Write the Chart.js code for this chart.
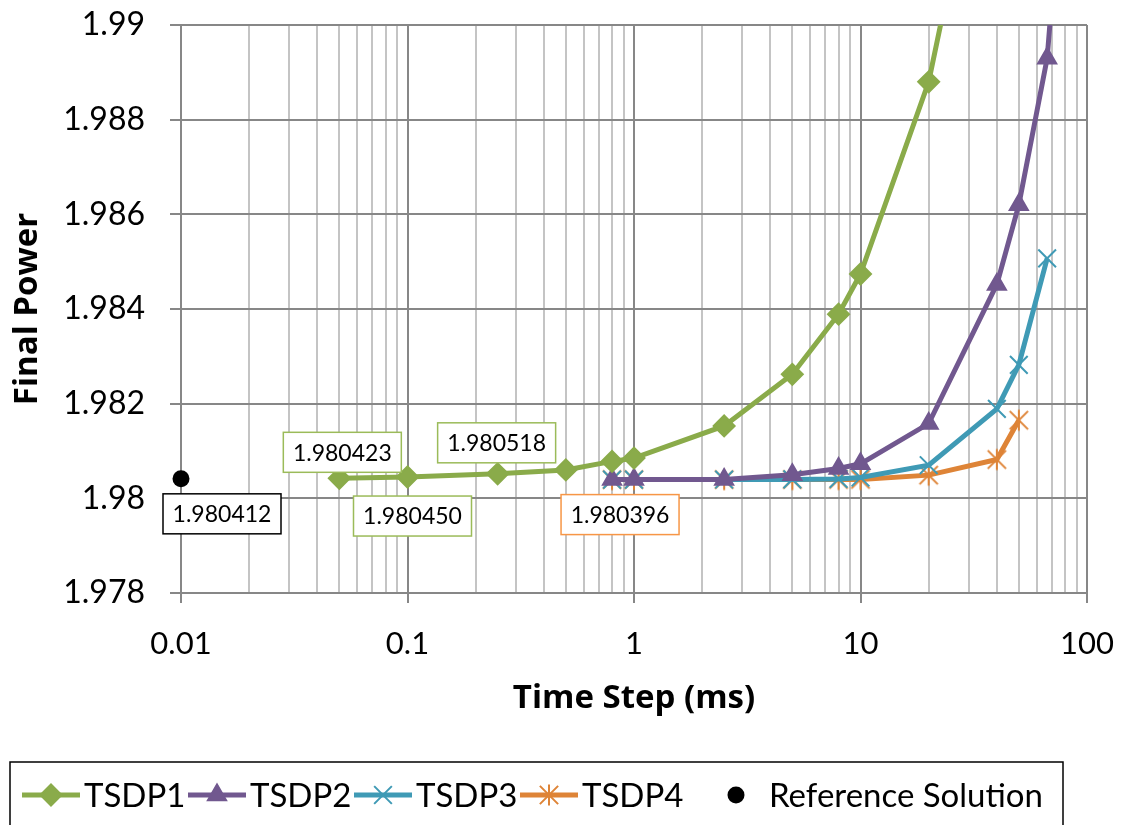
<!DOCTYPE html>
<html>
<head>
<meta charset="utf-8">
<script src="https://cdn.jsdelivr.net/npm/chart.js@4/dist/chart.umd.min.js"></script>
<style>
  html, body { margin: 0; padding: 0; background: #fff; }
  #wrap { width: 1126px; height: 825px; position: relative; }
</style>
</head>
<body>
<div id="wrap"><canvas id="chart" width="1126" height="825"></canvas></div>
<script>
// Data
const steps1 = [0.05, 0.1, 0.25, 0.5, 0.8, 1, 2.5, 5, 8, 10, 20, 40];
const power1 = [1.980423, 1.980450, 1.980518, 1.98060, 1.98078, 1.98085, 1.98153, 1.98262, 1.98389, 1.98474, 1.98880, 1.99570];

const steps2 = [0.8, 1, 2.5, 5, 8, 10, 20, 40, 50, 66.7, 80];
const power2 = [1.980397, 1.980397, 1.980400, 1.98050, 1.98063, 1.98073, 1.98158, 1.98452, 1.98620, 1.98930, 1.99400];

const steps3 = [0.8, 1, 2.5, 5, 8, 10, 20, 40, 50, 66.7];
const power3 = [1.980396, 1.980396, 1.980397, 1.980400, 1.98041, 1.98044, 1.98070, 1.98189, 1.98282, 1.98507];

const steps4 = [0.8, 1, 2.5, 5, 8, 10, 20, 40, 50];
const power4 = [1.980396, 1.980396, 1.980396, 1.980397, 1.980398, 1.980400, 1.98049, 1.98082, 1.98165];

const refStep = [0.01];
const refPower = [1.980412];

const decades = [0.01, 0.1, 1, 10, 100];
const yTicks = [1.978, 1.98, 1.982, 1.984, 1.986, 1.988, 1.99];

const FONT = 'Lato, "Open Sans", sans-serif';
const TITLE_FONT = '"Open Sans", Lato, sans-serif';
const GREEN = '#8AAB4A', PURPLE = '#71588F', TEAL = '#3F9AB5', ORANGE = '#DE8437';

// legend item start positions
const legendX = [22, 188, 354, 520, 707];

function pts(xs, ys) {
    return xs.map((x, i) => ({ x: x, y: ys[i] }));
}

// asterisk marker (X plus vertical bar), like the spreadsheet one
function asterisk(color, size) {
    const c = document.createElement('canvas');
    c.width = size; c.height = size;
    const g = c.getContext('2d');
    const m = size / 2, r = size / 2 - 1.5;
    g.strokeStyle = color;
    g.lineWidth = 2;
    g.beginPath();
    g.moveTo(m - r * 0.87, m - r * 0.87); g.lineTo(m + r * 0.87, m + r * 0.87);
    g.moveTo(m + r * 0.87, m - r * 0.87); g.lineTo(m - r * 0.87, m + r * 0.87);
    g.moveTo(m, m - r); g.lineTo(m, m + r);
    g.stroke();
    return c;
}
const starImg = asterisk(ORANGE, 24);

// boxed value labels
const labels = [
    { ds: 4, idx: 0, text: '1.980412', color: '#000000', dx: 41, dy: 35 },
    { ds: 0, idx: 0, text: '1.980423', color: '#9BBB59', dx: 3, dy: -26 },
    { ds: 0, idx: 1, text: '1.980450', color: '#9BBB59', dx: 5, dy: 39 },
    { ds: 0, idx: 2, text: '1.980518', color: '#9BBB59', dx: -1, dy: -31 },
    { ds: 3, idx: 0, text: '1.980396', color: '#F79646', dx: 8, dy: 35 }
];

const labelPlugin = {
    id: 'boxLabels',
    afterDatasetsDraw(chart) {
        const ctx = chart.ctx;
        ctx.save();
        ctx.font = '23px ' + FONT;
        ctx.textAlign = 'center';
        ctx.textBaseline = 'middle';
        labels.forEach(l => {
            const p = chart.getDatasetMeta(l.ds).data[l.idx];
            const cx = p.x + l.dx, cy = p.y + l.dy;
            const w = 118, h = 40;
            ctx.fillStyle = '#fff';
            ctx.fillRect(cx - w / 2, cy - h / 2, w, h);
            ctx.strokeStyle = l.color;
            ctx.lineWidth = 1.5;
            ctx.strokeRect(cx - w / 2, cy - h / 2, w, h);
            ctx.fillStyle = '#000';
            ctx.fillText(l.text, cx, cy + 1);
        });
        ctx.restore();
    }
};

// legend with line + marker samples inside a box
const legendPlugin = {
    id: 'boxLegend',
    afterDraw(chart) {
        const ctx = chart.ctx;
        ctx.save();
        ctx.strokeStyle = '#000';
        ctx.lineWidth = 1.5;
        ctx.strokeRect(10, 762, 1053, 70);
        ctx.font = '33px ' + FONT;
        ctx.textBaseline = 'middle';
        ctx.textAlign = 'left';
        const y = 795;
        chart.data.datasets.forEach((ds, i) => {
            const x = legendX[i];
            if (ds.showLine !== false) {
                ctx.strokeStyle = ds.borderColor;
                ctx.lineWidth = 5;
                ctx.beginPath();
                ctx.moveTo(x, y); ctx.lineTo(x + 58, y);
                ctx.stroke();
            }
            drawMarker(ctx, ds, x + 29, y);
            ctx.fillStyle = '#000';
            ctx.fillText(ds.label, x + 62, y + 1);
        });
        ctx.restore();
    }
};

function drawMarker(ctx, ds, x, y) {
    const r = ds.pointRadius;
    ctx.save();
    ctx.fillStyle = ds.pointBackgroundColor;
    ctx.strokeStyle = ds.pointBorderColor;
    ctx.lineWidth = ds.pointBorderWidth;
    ctx.beginPath();
    if (ds.pointStyle === 'rectRot') {
        ctx.moveTo(x - r, y); ctx.lineTo(x, y - r); ctx.lineTo(x + r, y); ctx.lineTo(x, y + r);
        ctx.closePath(); ctx.fill(); ctx.stroke();
    } else if (ds.pointStyle === 'triangle') {
        ctx.moveTo(x, y - r); ctx.lineTo(x + r * 0.866, y + r / 2); ctx.lineTo(x - r * 0.866, y + r / 2);
        ctx.closePath(); ctx.fill(); ctx.stroke();
    } else if (ds.pointStyle === 'crossRot') {
        const o = r * 0.707;
        ctx.moveTo(x - o, y - o); ctx.lineTo(x + o, y + o);
        ctx.moveTo(x + o, y - o); ctx.lineTo(x - o, y + o);
        ctx.stroke();
    } else if (ds.pointStyle === 'circle') {
        ctx.arc(x, y, r, 0, Math.PI * 2);
        ctx.fill();
    } else {
        const img = ds.pointStyle;
        ctx.drawImage(img, x - img.width / 2, y - img.height / 2);
    }
    ctx.restore();
}

function lineSet(label, xs, ys, color, style, radius, bw) {
    return {
        label: label,
        data: pts(xs, ys),
        borderColor: color,
        backgroundColor: color,
        borderWidth: 5,
        pointStyle: style,
        pointRadius: radius,
        pointHoverRadius: radius,
        pointBackgroundColor: color,
        pointBorderColor: color,
        pointBorderWidth: bw,
        tension: 0,
        showLine: true
    };
}

const datasets = [
    lineSet('TSDP1', steps1, power1, GREEN, 'rectRot', 10.5, 2),
    lineSet('TSDP2', steps2, power2, PURPLE, 'triangle', 10.5, 2),
    lineSet('TSDP3', steps3, power3, TEAL, 'crossRot', 12.5, 2),
    lineSet('TSDP4', steps4, power4, ORANGE, starImg, 12, 2),
    {
        label: 'Reference Solution',
        data: pts(refStep, refPower),
        showLine: false,
        pointStyle: 'circle',
        pointRadius: 8.5,
        pointHoverRadius: 8.5,
        pointBackgroundColor: '#000',
        pointBorderColor: '#000',
        pointBorderWidth: 0,
        clip: false
    }
];

new Chart(document.getElementById('chart').getContext('2d'), {
    type: 'scatter',
    data: { datasets: datasets },
    options: {
        responsive: false,
        animation: false,
        events: [],
        layout: { padding: { top: 25, right: 39, bottom: 105, left: 0 } },
        plugins: {
            legend: { display: false },
            tooltip: { enabled: false }
        },
        scales: {
            x: {
                type: 'logarithmic',
                min: 0.01,
                max: 100,
                afterBuildTicks: scale => {
                    const t = [];
                    decades.forEach((d, i) => {
                        t.push({ value: d, major: true });
                        if (i < decades.length - 1) {
                            for (let k = 2; k <= 9; k++) t.push({ value: d * k, major: false });
                        }
                    });
                    scale.ticks = t;
                },
                afterFit: scale => {
                    scale.height = 127;
                    scale.paddingLeft = 0;
                    scale.paddingRight = 0;
                },
                ticks: {
                    autoSkip: false,
                    maxRotation: 0,
                    padding: 22,
                    color: '#000',
                    font: { family: FONT, size: 31 },
                    callback: function(v) {
                        return decades.includes(v) ? String(v) : '';
                    }
                },
                grid: {
                    color: c => (c.tick && c.tick.major) ? '#878787' : '#C4C4C4',
                    lineWidth: 2,
                    tickLength: 10,
                    tickColor: c => (c.tick && c.tick.major) ? '#878787' : 'rgba(0,0,0,0)'
                },
                border: { color: '#878787', width: 2 },
                title: {
                    display: true,
                    text: 'Time Step (ms)',
                    color: '#000',
                    font: { family: TITLE_FONT, size: 33, weight: 'bold', lineHeight: 1.2 },
                    padding: { top: 2, bottom: 2 }
                }
            },
            y: {
                min: 1.978,
                max: 1.99,
                afterBuildTicks: scale => {
                    scale.ticks = yTicks.map(v => ({ value: v }));
                },
                afterFit: scale => {
                    scale.width = 181;
                    scale.paddingTop = 0;
                    scale.paddingBottom = 0;
                },
                ticks: {
                    padding: 25,
                    color: '#000',
                    font: { family: FONT, size: 32 },
                    callback: v => String(+v.toFixed(3))
                },
                grid: {
                    color: '#878787',
                    lineWidth: 2,
                    tickLength: 11,
                    tickColor: '#878787'
                },
                border: { color: '#878787', width: 2 },
                title: {
                    display: true,
                    text: 'Final Power',
                    color: '#000',
                    font: { family: TITLE_FONT, size: 33, weight: 'bold', lineHeight: 1.2 },
                    padding: { top: 8, bottom: 8 }
                }
            }
        }
    },
    plugins: [labelPlugin, legendPlugin]
});
</script>
</body>
</html>
